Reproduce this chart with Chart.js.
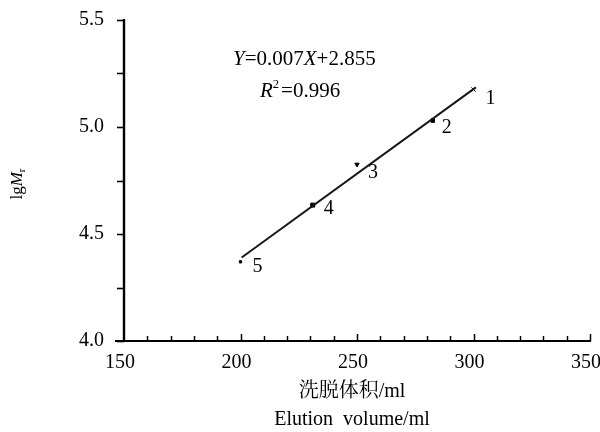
<!DOCTYPE html>
<html><head><meta charset="utf-8">
<script src="https://cdn.jsdelivr.net/npm/chart.js@4"></script>
<style>html,body{margin:0;padding:0;background:#fff}canvas{display:block}</style>
</head><body>
<canvas id="c" width="600" height="432"></canvas>
<script>
const sampleLabels = ['1', '2', '3', '4', '5'];
const elutionVolume = [300, 282.5, 250, 231, 200];
const lgMr = [5.175, 5.03, 4.825, 4.635, 4.37];
const fitX = [200.5, 301];
const fitY = [4.39, 5.185];
const xTickValues = [150, 200, 250, 300, 350];
const yTickValues = [4.0, 4.5, 5.0, 5.5];
const xMinorStep = 10;
const yMinorStep = 0.25;
const xTitleCn = '洗脱体积/ml';
const xTitleEn = 'Elution  volume/ml';

const SERIF = '"Liberation Serif", "DejaVu Serif", serif';
const CJK = '"Liberation Serif", "Noto Serif CJK SC", "Noto Sans CJK SC", serif';

const pointStyles = ['crossRot', 'rect', 'triangle', 'rect', 'rect'];
const pointRadii = [3, 2.5, 2.5, 2.8, 1.6];
const pointRotations = [0, 0, 180, 0, 0];
const labelOffsets = [[17, 9], [14, 7], [16, 8], [16, 4], [17, 5]];

const scatterData = elutionVolume.map((x, i) => ({x, y: lgMr[i]}));
const fitData = fitX.map((x, i) => ({x, y: fitY[i]}));

function drawMix(ctx, parts, x, y, size) {
  let cx = x;
  for (const [t, it, sup] of parts) {
    const fs = sup ? size * 0.6 : size;
    ctx.font = (it ? 'italic ' : '') + fs + 'px ' + SERIF;
    ctx.fillText(t, cx, sup ? y - size * 0.3 : y);
    cx += ctx.measureText(t).width + (sup ? 2 : 0);
  }
}

const decor = {
  id: 'decor',
  afterDraw(chart) {
    const ctx = chart.ctx;
    const xs = chart.scales.x, ys = chart.scales.y;
    const ax = xs.getPixelForValue(150);
    const ay = ys.getPixelForValue(4.0);
    const topY = ys.getPixelForValue(5.5);
    const rightX = xs.getPixelForValue(350);
    ctx.save();
    ctx.strokeStyle = '#000';
    ctx.fillStyle = '#000';
    // y axis
    ctx.lineWidth = 2.4;
    ctx.beginPath();
    ctx.moveTo(ax, topY - 1);
    ctx.lineTo(ax, ay);
    ctx.stroke();
    // x axis
    ctx.lineWidth = 2;
    ctx.beginPath();
    ctx.moveTo(ax - 9, ay);
    ctx.lineTo(rightX + 1, ay);
    ctx.stroke();
    // y ticks (outward)
    ctx.lineWidth = 1.6;
    for (let v = 4.0; v <= 5.5001; v += yMinorStep) {
      const py = Math.round(ys.getPixelForValue(v)) + 0.5;
      ctx.beginPath();
      ctx.moveTo(ax - 7, py);
      ctx.lineTo(ax, py);
      ctx.stroke();
    }
    // x ticks (inward)
    ctx.lineWidth = 1.5;
    for (let v = 150 + xMinorStep; v <= 350.001; v += xMinorStep) {
      const px = Math.round(xs.getPixelForValue(v)) + 0.5;
      const len = (v % 50 === 0) ? 7 : 5;
      ctx.beginPath();
      ctx.moveTo(px, ay);
      ctx.lineTo(px, ay - len);
      ctx.stroke();
    }
    // tick labels
    ctx.font = '20px ' + SERIF;
    ctx.textAlign = 'center';
    ctx.textBaseline = 'middle';
    xTickValues.forEach(v => ctx.fillText(String(v), xs.getPixelForValue(v) - 4, ay + 22));
    ctx.textAlign = 'right';
    yTickValues.forEach(v => ctx.fillText(v.toFixed(1), ax - 20, ys.getPixelForValue(v)));
    // point number labels
    ctx.font = '20px ' + SERIF;
    ctx.textAlign = 'center';
    sampleLabels.forEach((t, i) => {
      const px = xs.getPixelForValue(elutionVolume[i]) + labelOffsets[i][0];
      const py = ys.getPixelForValue(lgMr[i]) + labelOffsets[i][1];
      ctx.fillText(t, px, py);
    });
    // equation
    ctx.textAlign = 'left';
    drawMix(ctx, [['Y', true], ['=0.007', false], ['X', true], ['+2.855', false]], ax + 109, 59, 21);
    drawMix(ctx, [['R', true], ['2', false, true], ['=0.996', false]], ax + 136, 91, 21);
    // x titles
    ctx.textAlign = 'center';
    const cxm = 352;
    ctx.font = '20px ' + CJK;
    ctx.fillText(xTitleCn, cxm, 392);
    ctx.font = '20px ' + SERIF;
    ctx.fillText(xTitleEn, cxm, 420);
    // y title rotated
    ctx.translate(18, 184);
    ctx.rotate(-Math.PI / 2);
    ctx.textAlign = 'left';
    const parts = [['lg', false, 17], ['M', true, 17], ['r', false, 11]];
    let w = 0;
    for (const [t, it, s] of parts) { ctx.font = (it ? 'italic ' : '') + s + 'px ' + SERIF; w += ctx.measureText(t).width; }
    let cx = -w / 2;
    for (const [t, it, s] of parts) {
      ctx.font = (it ? 'italic ' : '') + s + 'px ' + SERIF;
      ctx.fillText(t, cx, s < 17 ? 4 : 0);
      cx += ctx.measureText(t).width;
    }
    ctx.restore();
  }
};

new Chart(document.getElementById('c'), {
  type: 'scatter',
  data: {
    datasets: [
      {
        type: 'line',
        data: fitData,
        borderColor: '#161616',
        borderWidth: 2,
        pointRadius: 0,
        showLine: true,
        fill: false
      },
      {
        data: scatterData,
        pointStyle: pointStyles,
        pointRadius: pointRadii,
        rotation: pointRotations,
        backgroundColor: '#000',
        borderColor: '#000',
        borderWidth: 1
      }
    ]
  },
  options: {
    responsive: false,
    animation: false,
    events: [],
    layout: {padding: {top: 20, right: 10, left: 124, bottom: 91}},
    plugins: {legend: {display: false}, tooltip: {enabled: false}},
    scales: {
      x: {type: 'linear', min: 150, max: 350, display: false},
      y: {type: 'linear', min: 4.0, max: 5.5, display: false}
    }
  },
  plugins: [decor]
});
</script>
</body></html>
